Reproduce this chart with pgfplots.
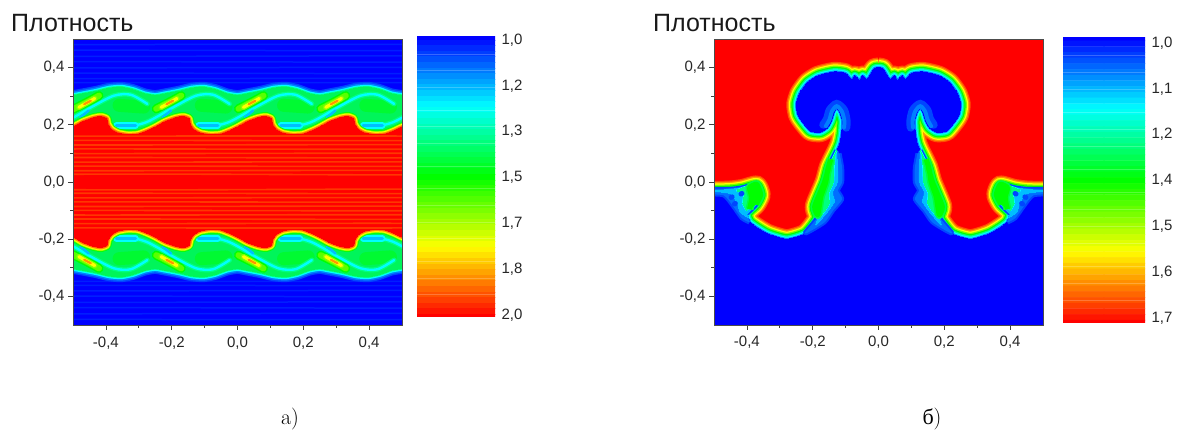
\documentclass[border=0pt]{standalone}
\usepackage{fontspec}
\usepackage{pgfplots}
\usepackage{pgfplotstable}
\pgfplotsset{compat=1.18}
\newfontfamily\arial{Liberation Sans}
\newfontfamily\tnr{Liberation Serif}

\definecolor{lvA}{RGB}{255,80,0}
\definecolor{lvB}{RGB}{255,150,0}
\definecolor{lvC}{RGB}{255,255,0}
\definecolor{lvD}{RGB}{128,255,0}
\definecolor{lvE}{RGB}{0,255,0}
\definecolor{lvF}{RGB}{0,255,128}
\definecolor{lvG}{RGB}{0,255,255}
\definecolor{lvH}{RGB}{0,128,255}
\definecolor{lvI}{RGB}{0,70,255}
\definecolor{bandgreen}{RGB}{0,245,90}
\definecolor{blobgreen}{RGB}{0,250,50}
\definecolor{pocketblue}{RGB}{0,190,255}
\definecolor{stripeblue}{RGB}{0,30,255}
\definecolor{stripered}{RGB}{255,55,0}

% one filled contour, widened by its stroke
\newcommand{\lev}[3]{\addplot[forget plot,smooth,tension=.35,unbounded coords=jump,fill=#2,draw=#2,line width=#3pt,line join=round] table[x=x,y=y] {#1};}
\newcommand{\stk}[3]{\addplot[forget plot,smooth,tension=.5,unbounded coords=jump,draw=#2,line width=#3pt,line cap=round] table[x=x,y=y] {#1};}

% ---- panel a
\pgfplotstableread[row sep=\\]{x y\\
-.500 .192\\-.470 .211\\-.439 .224\\-.414 .229\\-.397 .221\\-.394 .203\\-.383 .184\\-.363 .171\\-.333 .165\\-.302 .167\\-.272 .180\\
-.250 .192\\-.220 .211\\-.189 .224\\-.164 .229\\-.147 .221\\-.144 .203\\-.133 .184\\-.113 .171\\-.083 .165\\-.052 .167\\-.022 .180\\
.000 .192\\.030 .211\\.061 .224\\.086 .229\\.103 .221\\.106 .203\\.117 .184\\.137 .171\\.167 .165\\.198 .167\\.228 .180\\
.250 .192\\.280 .211\\.311 .224\\.336 .229\\.353 .221\\.356 .203\\.367 .184\\.387 .171\\.417 .165\\.448 .167\\.478 .180\\
.500 .192\\.530 .200\\.620 .200\\.620 -.200\\.530 -.200\\.500 -.192\\
.478 -.180\\.448 -.167\\.417 -.165\\.387 -.171\\.367 -.184\\.356 -.203\\.353 -.221\\.336 -.229\\.311 -.224\\.280 -.211\\.250 -.192\\
.228 -.180\\.198 -.167\\.167 -.165\\.137 -.171\\.117 -.184\\.106 -.203\\.103 -.221\\.086 -.229\\.061 -.224\\.030 -.211\\.000 -.192\\
-.022 -.180\\-.052 -.167\\-.083 -.165\\-.113 -.171\\-.133 -.184\\-.144 -.203\\-.147 -.221\\-.164 -.229\\-.189 -.224\\-.220 -.211\\-.250 -.192\\
-.272 -.180\\-.302 -.167\\-.333 -.165\\-.363 -.171\\-.383 -.184\\-.394 -.203\\-.397 -.221\\-.414 -.229\\-.439 -.224\\-.470 -.211\\-.500 -.192\\
-.530 -.200\\-.620 -.200\\-.620 .200\\-.530 .200\\-.500 .192\\
}\redcore

\pgfplotstableread[row sep=\\]{x y\\
-.620 .100\\-.620 .300\\-.530 .298\\-.500 .302\\-.470 .308\\-.429 .317\\-.389 .328\\-.353 .331\\-.318 .323\\-.282 .308\\
-.250 .302\\-.220 .308\\-.179 .317\\-.139 .328\\-.103 .331\\-.068 .323\\-.032 .308\\
.000 .302\\.030 .308\\.071 .317\\.111 .328\\.147 .331\\.182 .323\\.218 .308\\
.250 .302\\.280 .308\\.321 .317\\.361 .328\\.397 .331\\.432 .323\\.468 .308\\
.500 .302\\.530 .298\\.620 .300\\.620 .100\\
}\bandup

\pgfplotstableread[row sep=\\]{x y\\
-.620 -.100\\-.620 -.300\\-.530 -.298\\-.500 -.302\\-.470 -.308\\-.429 -.317\\-.389 -.328\\-.353 -.331\\-.318 -.323\\-.282 -.308\\
-.250 -.302\\-.220 -.308\\-.179 -.317\\-.139 -.328\\-.103 -.331\\-.068 -.323\\-.032 -.308\\
.000 -.302\\.030 -.308\\.071 -.317\\.111 -.328\\.147 -.331\\.182 -.323\\.218 -.308\\
.250 -.302\\.280 -.308\\.321 -.317\\.361 -.328\\.397 -.331\\.432 -.323\\.468 -.308\\
.500 -.302\\.530 -.298\\.620 -.300\\.620 -.100\\
}\banddown

\pgfplotstableread[row sep=\\]{x y\\
-.618 .198\\-.568 .197\\-.527 .209\\-.487 .233\\-.436 .267\\-.375 .302\\-.324 .305\\-.274 .273\\nan nan\\
-.368 .198\\-.318 .197\\-.277 .209\\-.237 .233\\-.186 .267\\-.125 .302\\-.074 .305\\-.024 .273\\nan nan\\
-.118 .198\\-.068 .197\\-.027 .209\\.013 .233\\.064 .267\\.125 .302\\.176 .305\\.226 .273\\nan nan\\
.132 .198\\.182 .197\\.223 .209\\.263 .233\\.314 .267\\.375 .302\\.426 .305\\.476 .273\\nan nan\\
.382 .198\\.432 .197\\.473 .209\\.513 .233\\.564 .267\\nan nan\\
-.618 -.198\\-.568 -.197\\-.527 -.209\\-.487 -.233\\-.436 -.267\\-.375 -.302\\-.324 -.305\\-.274 -.273\\nan nan\\
-.368 -.198\\-.318 -.197\\-.277 -.209\\-.237 -.233\\-.186 -.267\\-.125 -.302\\-.074 -.305\\-.024 -.273\\nan nan\\
-.118 -.198\\-.068 -.197\\-.027 -.209\\.013 -.233\\.064 -.267\\.125 -.302\\.176 -.305\\.226 -.273\\nan nan\\
.132 -.198\\.182 -.197\\.223 -.209\\.263 -.233\\.314 -.267\\.375 -.302\\.426 -.305\\.476 -.273\\nan nan\\
.382 -.198\\.432 -.197\\.473 -.209\\.513 -.233\\.564 -.267\\
}\streak

\pgfplotstableread[row sep=\\]{x y\\
-.368 .197\\-.310 .197\\nan nan\\-.118 .197\\-.060 .197\\nan nan\\.132 .197\\.190 .197\\nan nan\\.382 .197\\.440 .197\\nan nan\\
-.368 -.197\\-.310 -.197\\nan nan\\-.118 -.197\\-.060 -.197\\nan nan\\.132 -.197\\.190 -.197\\nan nan\\.382 -.197\\.440 -.197\\
}\pocket

\pgfplotstableread[row sep=\\]{x y\\
-.478 .226\\-.452 .250\\nan nan\\-.228 .226\\-.202 .250\\nan nan\\.022 .226\\.048 .250\\nan nan\\.272 .226\\.298 .250\\nan nan\\
-.478 -.226\\-.452 -.250\\nan nan\\-.228 -.226\\-.202 -.250\\nan nan\\.022 -.226\\.048 -.250\\nan nan\\.272 -.226\\.298 -.250\\
}\streakdots

\pgfplotstableread[row sep=\\]{x y\\
-.360 .268\\-.285 .262\\nan nan\\-.110 .268\\-.035 .262\\nan nan\\.140 .268\\.215 .262\\nan nan\\.390 .268\\.465 .262\\nan nan\\
-.360 -.268\\-.285 -.262\\nan nan\\-.110 -.268\\-.035 -.262\\nan nan\\.140 -.268\\.215 -.262\\nan nan\\.390 -.268\\.465 -.262\\
}\blob

\pgfplotstableread[row sep=\\]{x y\\
-.500 .254\\-.451 .283\\-.421 .302\\nan nan\\-.247 .256\\-.201 .283\\-.171 .302\\nan nan\\.003 .256\\.049 .283\\.079 .302\\nan nan\\.253 .256\\.299 .283\\.329 .302\\nan nan\\
-.500 -.254\\-.451 -.283\\-.421 -.302\\nan nan\\-.247 -.256\\-.201 -.283\\-.171 -.302\\nan nan\\.003 -.256\\.049 -.283\\.079 -.302\\nan nan\\.253 -.256\\.299 -.283\\.329 -.302\\
}\lens

\pgfplotstableread[row sep=\\]{x y\\
-.482 .261\\-.434 .292\\nan nan\\-.232 .261\\-.184 .292\\nan nan\\.018 .261\\.066 .292\\nan nan\\.268 .261\\.316 .292\\nan nan\\
-.482 -.261\\-.434 -.292\\nan nan\\-.232 -.261\\-.184 -.292\\nan nan\\.018 -.261\\.066 -.292\\nan nan\\.268 -.261\\.316 -.292\\
}\lensmid

\pgfplotstableread[row sep=\\]{x y\\
-.466 .272\\-.446 .284\\nan nan\\-.216 .272\\-.196 .284\\nan nan\\.034 .272\\.054 .284\\nan nan\\.284 .272\\.304 .284\\nan nan\\
-.466 -.272\\-.446 -.284\\nan nan\\-.216 -.272\\-.196 -.284\\nan nan\\.034 -.272\\.054 -.284\\nan nan\\.284 -.272\\.304 -.284\\
}\lenscore

\pgfplotstableread[row sep=\\]{x y\\
-.6 .160\\.6 .160\\.6 .145\\-.6 .145\\-.6 .130\\.6 .130\\.6 .115\\-.6 .115\\-.6 .100\\.6 .100\\.6 .085\\-.6 .085\\-.6 .070\\.6 .070\\.6 .055\\-.6 .055\\-.6 .040\\.6 .040\\.6 .025\\-.6 .025\\
-.6 -.025\\.6 -.025\\.6 -.040\\-.6 -.040\\-.6 -.055\\.6 -.055\\.6 -.070\\-.6 -.070\\-.6 -.085\\.6 -.085\\.6 -.100\\-.6 -.100\\-.6 -.115\\.6 -.115\\.6 -.130\\-.6 -.130\\-.6 -.145\\.6 -.145\\.6 -.160\\-.6 -.160\\
}\redstripes

\pgfplotstableread[row sep=\\]{x y\\
-.6 .480\\.6 .480\\.6 .460\\-.6 .460\\-.6 .440\\.6 .440\\.6 .420\\-.6 .420\\-.6 .400\\.6 .400\\.6 .380\\-.6 .380\\-.6 .362\\.6 .362\\.6 .348\\-.6 .348\\
}\bluetop

\pgfplotstableread[row sep=\\]{x y\\
-.6 -.348\\.6 -.348\\.6 -.362\\-.6 -.362\\-.6 -.380\\.6 -.380\\.6 -.400\\-.6 -.400\\-.6 -.420\\.6 -.420\\.6 -.440\\-.6 -.440\\-.6 -.460\\.6 -.460\\.6 -.480\\-.6 -.480\\
}\bluebot

% ---- panel b
\pgfplotstableread[row sep=\\]{x y\\
0 .400\\.012 .398\\.022 .382\\.035 .358\\.048 .372\\.058 .356\\.072 .372\\.082 .358\\.100 .380\\.135 .385\\.183 .372\\.216 .348\\.240 .310\\.250 .272\\.245 .235\\.233 .213\\.207 .178\\.177 .174\\.155 .190\\.143 .215\\.135 .245\\.127 .258\\.118 .245\\.110 .215\\.112 .170\\.118 .135\\.127 .110\\.151 .053\\.164 0\\.194 -.085\\.186 -.126\\.222 -.180\\.279 -.200\\.339 -.180\\.390 -.142\\.400 -.110\\.372 -.078\\.358 -.045\\.370 -.012\\.412 -.024\\.453 -.030\\.530 -.032\\.620 -.032\\.620 -.620\\
-.620 -.620\\-.620 -.032\\-.530 -.032\\-.453 -.030\\-.412 -.024\\-.370 -.012\\-.358 -.045\\-.372 -.078\\-.400 -.110\\-.390 -.142\\-.339 -.180\\-.279 -.200\\-.222 -.180\\-.186 -.126\\-.194 -.085\\-.164 0\\-.151 .053\\-.127 .110\\-.118 .135\\-.112 .170\\-.110 .215\\-.118 .245\\-.127 .258\\-.135 .245\\-.143 .215\\-.155 .190\\-.177 .174\\-.207 .178\\-.233 .213\\-.245 .235\\-.250 .272\\-.240 .310\\-.216 .348\\-.183 .372\\-.135 .385\\-.100 .380\\-.082 .358\\-.072 .372\\-.058 .356\\-.048 .372\\-.035 .358\\-.022 .382\\-.012 .398\\0 .400\\
}\mush

\pgfplotstableread[row sep=\\]{x y\\
.120 .100\\.112 .050\\.112 0\\.125 -.030\\.112 -.060\\.140 -.100\\.165 -.140\\.222 -.178\\.186 -.126\\.194 -.085\\.164 0\\.151 .053\\.127 .110\\nan nan\\
-.120 .100\\-.112 .050\\-.112 0\\-.125 -.030\\-.112 -.060\\-.140 -.100\\-.165 -.140\\-.222 -.178\\-.186 -.126\\-.194 -.085\\-.164 0\\-.151 .053\\-.127 .110\\nan nan\\
.392 -.140\\.415 -.125\\.440 -.085\\.470 -.045\\.535 -.040\\.535 -.026\\.453 -.026\\.412 -.020\\.370 -.008\\.358 -.045\\.372 -.078\\.400 -.110\\nan nan\\
-.392 -.140\\-.415 -.125\\-.440 -.085\\-.470 -.045\\-.535 -.040\\-.535 -.026\\-.453 -.026\\-.412 -.020\\-.370 -.008\\-.358 -.045\\-.372 -.078\\-.400 -.110\\
}\patchblue

\pgfplotstableread[row sep=\\]{x y\\
.127 .100\\.125 .050\\.125 0\\.140 -.035\\.135 -.070\\.160 -.110\\.190 -.150\\.186 -.126\\.194 -.085\\.164 0\\.151 .053\\.127 .110\\nan nan\\
-.127 .100\\-.125 .050\\-.125 0\\-.140 -.035\\-.135 -.070\\-.160 -.110\\-.190 -.150\\-.186 -.126\\-.194 -.085\\-.164 0\\-.151 .053\\-.127 .110\\nan nan\\
.395 -.125\\.420 -.105\\.430 -.070\\.450 -.040\\.500 -.032\\.453 -.026\\.412 -.020\\.370 -.008\\.358 -.045\\.372 -.078\\.400 -.110\\nan nan\\
-.395 -.125\\-.420 -.105\\-.430 -.070\\-.450 -.040\\-.500 -.032\\-.453 -.026\\-.412 -.020\\-.370 -.008\\-.358 -.045\\-.372 -.078\\-.400 -.110\\
}\patchlight

\pgfplotstableread[row sep=\\]{x y\\
.133 .090\\.136 .050\\.138 0\\.152 -.040\\.150 -.075\\.170 -.110\\.186 -.126\\.194 -.085\\.164 0\\.151 .053\\.127 .110\\nan nan\\
-.133 .090\\-.136 .050\\-.138 0\\-.152 -.040\\-.150 -.075\\-.170 -.110\\-.186 -.126\\-.194 -.085\\-.164 0\\-.151 .053\\-.127 .110\\nan nan\\
.400 -.100\\.412 -.075\\.408 -.040\\.430 -.030\\.412 -.020\\.370 -.008\\.358 -.045\\.372 -.078\\nan nan\\
-.400 -.100\\-.412 -.075\\-.408 -.040\\-.430 -.030\\-.412 -.020\\-.370 -.008\\-.358 -.045\\-.372 -.078\\
}\patchcyan

\pgfplotstableread[row sep=\\]{x y\\
.145 .080\\.155 .040\\.160 0\\.175 -.050\\.180 -.085\\.185 -.115\\.194 -.085\\.164 0\\.151 .053\\nan nan\\
-.145 .080\\-.155 .040\\-.160 0\\-.175 -.050\\-.180 -.085\\-.185 -.115\\-.194 -.085\\-.164 0\\-.151 .053\\nan nan\\
.392 -.095\\.385 -.055\\.392 -.020\\.370 -.008\\.358 -.045\\.372 -.078\\nan nan\\
-.392 -.095\\-.385 -.055\\-.392 -.020\\-.370 -.008\\-.358 -.045\\-.372 -.078\\
}\patchgreen

\pgfplotstableread[row sep=\\]{x y\\
.415 -.040\\.418 -.042\\nan nan\\.445 -.052\\.448 -.054\\nan nan\\.435 -.075\\.438 -.077\\nan nan\\
-.415 -.040\\-.418 -.042\\nan nan\\-.445 -.052\\-.448 -.054\\nan nan\\-.435 -.075\\-.438 -.077\\
}\specks

\pgfplotstableread[row sep=\\]{x y\\
.168 .200\\.156 .222\\.148 .252\\.127 .273\\.105 .252\\.097 .215\\.098 .190\\nan nan\\
-.168 .200\\-.156 .222\\-.148 .252\\-.127 .273\\-.105 .252\\-.097 .215\\-.098 .190\\
}\haloout

\pgfplotstableread[row sep=\\]{x y\\
.160 .195\\.149 .218\\.141 .248\\.127 .265\\.112 .248\\.104 .215\\.105 .190\\nan nan\\
-.160 .195\\-.149 .218\\-.141 .248\\-.127 .265\\-.112 .248\\-.104 .215\\-.105 .190\\
}\haloin

% ---- colour bars, one row of cells per band
\pgfplotstableread[row sep=\\]{x y\\
0 0\\1 0\\0 1\\1 1\\0 2\\1 2\\0 3\\1 3\\0 4\\1 4\\0 5\\1 5\\0 6\\1 6\\0 7\\1 7\\0 8\\1 8\\0 9\\1 9\\
0 10\\1 10\\0 11\\1 11\\0 12\\1 12\\0 13\\1 13\\0 14\\1 14\\0 15\\1 15\\0 16\\1 16\\0 17\\1 17\\0 18\\1 18\\0 19\\1 19\\
0 20\\1 20\\0 21\\1 21\\0 22\\1 22\\0 23\\1 23\\0 24\\1 24\\0 25\\1 25\\0 26\\1 26\\0 27\\1 27\\0 28\\1 28\\0 29\\1 29\\
0 30\\1 30\\0 31\\1 31\\0 32\\1 32\\0 33\\1 33\\0 34\\1 34\\0 35\\1 35\\0 36\\1 36\\0 37\\1 37\\0 38\\1 38\\0 39\\1 39\\
0 40\\1 40\\0 41\\1 41\\0 42\\1 42\\0 43\\1 43\\0 44\\1 44\\0 45\\1 45\\0 46\\1 46\\0 47\\1 47\\0 48\\1 48\\0 49\\1 49\\
0 50\\1 50\\
}\bars

\pgfplotsset{
  field/.style={
    scale only axis, width=329pt, height=286pt,
    xmin=-.5, xmax=.5, ymin=-.5, ymax=.5,
    xtick={-.4,-.2,0,.2,.4}, ytick={-.4,-.2,0,.2,.4},
    minor xtick={-.3,-.1,.1,.3}, minor ytick={-.3,-.1,.1,.3},
    tick align=outside, xtick pos=bottom, ytick pos=left,
    major tick length=5pt, minor tick length=3pt,
    tick style={black!75,line width=.7pt},
    axis line style={black!70,line width=.8pt},
    axis on top,
    tick label style={font=\arial\fontsize{15}{17}\selectfont,black!85},
    xticklabel style={yshift=-3pt},
    /pgf/number format/.cd, fixed, fixed zerofill, precision=1, use comma, assume math mode=true,
  },
  cbar/.style={
    scale only axis, width=78pt,
    xmin=.0, xmax=1, ymin=0, ymax=50, y dir=reverse,
    enlargelimits=false, xtick=\empty,
    yticklabel pos=right, major tick length=0pt,
    axis line style={draw=none},
    tick label style={font=\arial\fontsize{15}{17}\selectfont,black!85},
    yticklabel style={xshift=3pt},
    colormap={rb}{rgb255(0)=(0,0,255) rgb255(1)=(0,255,255) rgb255(2)=(0,255,0) rgb255(3)=(255,255,0) rgb255(4)=(255,0,0)},
    point meta min=0, point meta max=50,
    minor ytick={3,6,9,13,16,19,23,27,30,33,36,40,43,46},
    minor tick length=0pt, yminorgrids,
    minor grid style={white,opacity=.22,line width=.5pt},
    axis on top,
  },
}

\begin{document}
\begin{tikzpicture}[x=1pt,y=1pt]
\useasboundingbox (0,0) rectangle (1179,430);

% a) field
\begin{axis}[field, at={(73pt,105pt)}, anchor=south west, axis background/.style={fill=blue}]
  \stk{\bluetop}{stripeblue}{1.5}
  \stk{\bluebot}{stripeblue}{1.5}
  \lev{\bandup}{lvI}{11}
  \lev{\bandup}{lvH}{8}
  \lev{\bandup}{lvG}{5}
  \lev{\bandup}{lvF}{2.5}
  \lev{\bandup}{bandgreen}{0}
  \lev{\banddown}{lvI}{11}
  \lev{\banddown}{lvH}{8}
  \lev{\banddown}{lvG}{5}
  \lev{\banddown}{lvF}{2.5}
  \lev{\banddown}{bandgreen}{0}
  \stk{\blob}{blobgreen}{13}
  \stk{\streak}{lvF}{5}
  \stk{\streak}{lvG}{2.4}
  \stk{\pocket}{lvG}{6.5}
  \stk{\pocket}{pocketblue}{3}
  \stk{\streakdots}{pocketblue}{2.5}
  \stk{\lens}{lvE}{9}
  \stk{\lens}{lvD!70!lvE}{6}
  \stk{\lensmid}{lvD}{5.5}
  \stk{\lensmid}{lvC}{3.2}
  \stk{\lenscore}{lvB}{2.2}
  \lev{\redcore}{lvE}{9}
  \lev{\redcore}{lvD}{7.5}
  \lev{\redcore}{lvC}{6}
  \lev{\redcore}{lvB}{4}
  \lev{\redcore}{lvA}{2}
  \lev{\redcore}{red}{0}
  \stk{\redstripes}{stripered}{1.6}
\end{axis}

% a) colour bar
\begin{axis}[cbar, at={(417pt,113pt)}, anchor=south west, height=280pt,
  ytick={.54,8.72,16.9,25.08,33.26,41.44,49.6},
  yticklabels={{1,0},{1,2},{1,3},{1,5},{1,7},{1,8},{2,0}}]
  \addplot[matrix plot*, mesh/cols=2, point meta=y, forget plot] table[x=x,y=y] {\bars};
\end{axis}

% b) field
\begin{axis}[field, at={(714pt,105pt)}, anchor=south west, axis background/.style={fill=red}]
  \lev{\mush}{lvA}{20}
  \lev{\mush}{lvB}{17.5}
  \lev{\mush}{lvC}{15}
  \lev{\mush}{lvD}{12.5}
  \lev{\mush}{lvE}{10}
  \lev{\mush}{lvF}{7.5}
  \lev{\mush}{lvG}{5}
  \lev{\mush}{lvH}{2.5}
  \lev{\mush}{blue}{0}
  \stk{\haloout}{lvI}{8}
  \stk{\haloin}{lvH}{4}
  \lev{\patchblue}{lvI}{5}
  \lev{\patchblue}{lvH!70!lvI}{1}
  \lev{\patchlight}{lvH}{2}
  \lev{\patchlight}{pocketblue}{0}
  \lev{\patchcyan}{lvG}{2}
  \lev{\patchcyan}{lvF}{0}
  \lev{\patchgreen}{lvF!50!lvE}{8}
  \lev{\patchgreen}{lvE}{5}
  \stk{\specks}{lvI}{5}
\end{axis}

% b) colour bar
\begin{axis}[cbar, at={(1063pt,107pt)}, anchor=south west, height=285pt, width=82pt,
  ytick={.88,8.92,16.96,25,33.04,41.08,49.12},
  yticklabels={{1,0},{1,1},{1,2},{1,4},{1,5},{1,6},{1,7}}]
  \addplot[matrix plot*, mesh/cols=2, point meta=y, forget plot] table[x=x,y=y] {\bars};
\end{axis}

\node[anchor=west,inner sep=0pt,font=\arial\fontsize{25}{27}\selectfont,text=black!90] at (11,407) {Плотность};
\node[anchor=west,inner sep=0pt,font=\arial\fontsize{25}{27}\selectfont,text=black!90] at (653,407) {Плотность};
\node[inner sep=0pt,font=\fontsize{22}{24}\selectfont] at (290,11) {a)};
\node[inner sep=0pt,font=\fontsize{22}{24}\selectfont] at (932,11) {{\tnr б})};
\end{tikzpicture}
\end{document}
